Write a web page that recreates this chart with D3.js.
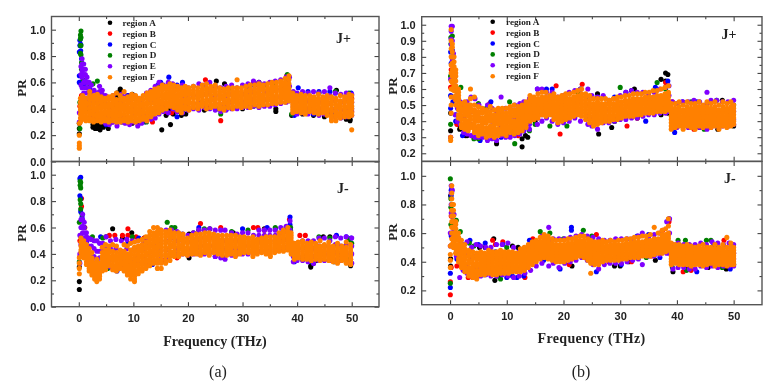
<!DOCTYPE html>
<html>
<head>
<meta charset="utf-8">
<script src="https://cdn.jsdelivr.net/npm/d3@7"></script>
<style>
  html, body { margin: 0; background: #fff; }
  svg { display: block; filter: blur(0.6px); font-family: "Liberation Serif", serif; }
  .tick text { font-weight: bold; fill: #222; }
</style>
</head>
<body>
<svg width="780" height="387"></svg>
<script>
const regions = ['region A', 'region B', 'region C', 'region D', 'region E', 'region F'];
const colors = ['#000000', '#ff0000', '#0000ff', '#008000', '#8000ff', '#ff8000'];

// each row: frequency (THz), then the PR values at that frequency x100
const aPlusA = [[0.1,21,25,29],[0.6,42],[2.1,35,33],[2.6,28,26],[3,29,27,25],[3.4,27,25,29],[3.9,24,27,29],[4.5,28,26],[5.4,25,29],[6.1,30],[7,50,52],[7.6,54,55],[8.5,47,31],[9.8,51,29],[11,30],[12.5,50],[14.7,38],[15.2,24],[16,35,40],[16.8,28,40],[17.3,36],[18,38],[18.8,35],[19.6,36],[23,39],[25.2,61,40],[26.7,59],[27,40],[28.3,41],[30,40],[33,60,42],[36.1,40,38],[39,35],[41,36],[43,35],[45,34],[47.2,54],[49,32],[49.7,31,32]];
const aPlusB = [[0.2,30,42],[0.5,50,42],[1,44],[2.3,37,33],[3,32],[6,33],[9,50],[13.5,30,50],[16,38],[17,37],[18,38],[23.2,62],[26,31],[24,42],[32,60],[32.5,58],[38.1,65,60],[40,51],[44,37],[48,35],[50,38,48]];
const aPlusC = [[0.1,65,60,83],[0.2,88,92],[0.35,89,84,60],[0.5,78],[1,58],[2,38,55],[3,35],[5,28,48],[7.2,32],[9,50],[11,32],[12,30],[13,52],[14.5,58],[15,60],[16.5,64],[18,34,58],[19,60],[22,42],[25,56],[27,40],[28,56],[31,57],[32,58],[36,44],[38.2,48,62],[39.5,35],[40.2,56],[41,38],[42,53],[43,36],[44,53],[46,53],[47,36,52],[49.9,50,52,38,42]];
const aPlusD = [[0.2,25,45],[0.3,82,88,93,96],[0.4,99,94,88,81],[0.5,75,70],[0.8,62],[2,38,58],[2.6,59],[3.4,61],[4,36],[6,48],[8,30],[10,48],[12.4,30],[14,55],[15,58],[19,38],[24,55],[25.5,40],[26,36],[28,55],[32,42],[34,58],[36,58],[38.2,66],[39,36],[42,38],[44,52],[46,36],[47,53],[49.5,52,38],[49.9,36,46]];
const aPlusE = [[0.1,37,30],[0.4,72,66,58],[0.6,78,74,69,64,56],[0.9,74,70,66,60,52],[1.2,70,66,61,56,48],[1.5,64,60,56,52,45],[1.9,60,56,52,48,42],[2.3,58,52,46,36],[2.8,54,48,40,34],[3.3,52,46,38,32],[3.8,57,53,50,42,34],[4.3,54,51,47,36,31],[4.9,50,44,33,29],[5.6,48,41,34,28],[6.3,50,43,36,30],[7,46,38,32,27],[7.8,51,44,35,30],[8.5,49,41,33,29],[9.3,47,39,31,28],[10,50,42,35,30],[10.8,48,37,31,27],[11.5,47,40,34,29],[12.4,52,44,36,31],[13.2,54,46,38,32],[14,57,48,40,33],[14.7,60,50,42,36],[15.5,58,49,43,38],[16.4,60,50,44,37],[17.2,59,52,45,40],[18,57,50,43,38],[19,58,50,44,37],[20,56,49,43,39],[21,57,50,44,40],[22,59,52,45,39],[23,58,51,44,41],[24,60,52,46,40],[25,57,50,44,39],[26,56,49,43,38],[27,57,50,44,39],[28,58,51,45,40],[29,56,50,44,40],[30,58,51,45,41],[31,59,52,46,41],[32,61,53,47,42],[33,60,52,46,41],[34,59,53,47,42],[35,60,53,47,42],[36,61,54,48,43],[37,62,55,49,44],[38,64,56,50,45],[38.6,64,57,50,46],[39.3,53,47,42,37],[40,52,46,40,36],[41,53,47,41,37],[42,52,46,40,36],[43,53,46,41,37],[44,52,45,40,35],[45,53,47,42,36],[46,56,50,44,38],[47,52,46,40,34],[48,51,45,39,33],[49,52,46,40,34],[50,51,45,40,35]];
const aPlusF = [[0.1,10,12,14,20,29],[0.3,30,33,36,39,42,45,48],[0.7,32,34,37,39,42,44,47,50],[1.3,31,34,37,40,43,45,48],[2,31,33,36,38,41,44,47,50,53],[2.7,30,32,35,38,40,43,46,48,50],[3.4,31,34,36,39,41,44,47,49,51],[4.1,30,33,35,37,40,42,45,47,49],[4.8,31,33,36,38,41,43,46,48],[5.5,30,32,35,37,39,42,44,47,49],[6.2,31,34,36,38,41,43,46,48,50],[6.9,30,33,35,38,40,43,45,47,52],[7.6,30,32,35,37,40,42,44,47,50],[8.3,31,33,36,39,41,43,46,48,53],[9,30,32,34,37,39,41,44,46,49],[9.7,31,34,37,39,42,44,47,49,51],[10.4,30,33,35,38,40,43,45,48,50],[11.1,31,33,36,38,41,43,46,48],[11.8,32,34,37,39,42,44,47,50],[12.5,31,34,37,40,43,45,48,50,52],[13.2,34,36,39,41,44,47,49,51,53],[13.9,36,38,41,44,46,49,51,53,55],[14.6,37,40,42,45,47,50,52,54,56],[15.3,39,41,44,46,49,51,54,56,58],[16,40,43,45,48,50,52,55,57],[16.7,42,44,46,49,51,53,56,59],[17.4,41,43,46,48,50,53,55,58],[18.1,39,41,44,46,49,51,54,57],[18.8,37,40,42,45,47,50,52,54,56],[19.5,40,42,45,47,50,52,54,57],[20.2,39,41,44,46,48,51,53,56],[21,41,43,45,48,50,52,54,57],[21.8,40,42,44,47,49,51,53,56],[22.6,42,44,46,49,51,53,55,58],[23.4,40,43,45,47,50,52,54,56,59],[24.2,41,43,46,48,50,53,55,57],[25,42,44,46,48,51,53,55,58],[25.8,40,42,44,47,49,51,53,56],[26.6,39,41,44,46,48,50,53,55],[27.4,41,43,45,47,50,52,54,56],[28.2,40,42,45,47,49,51,53,56],[29,42,44,46,48,50,52,54,56,62],[29.8,41,43,45,47,49,51,53,56],[30.6,42,44,46,48,50,52,54,57],[31.4,41,44,46,48,50,53,55,58],[32.2,43,45,47,49,51,53,55,58],[33,42,45,47,49,51,53,55,57,59],[33.8,43,45,47,49,51,54,56,58],[34.6,43,46,48,50,52,54,56,59],[35.4,44,46,48,50,52,54,56,58,60],[36.2,44,46,48,50,53,55,57,60],[37,45,47,49,51,53,55,57,59,61],[37.8,45,48,50,52,54,56,58,60,63],[38.5,46,48,50,52,54,56,59,62,65],[39.2,37,39,41,43,45,47,49,52],[39.9,38,40,42,44,46,48,50],[40.7,37,39,41,43,45,47,49,51],[41.5,36,38,40,42,44,46,48,50],[42.3,38,40,42,44,46,48,50],[43.1,37,39,41,43,45,47,49],[43.9,36,38,40,42,44,46,48,51],[44.7,37,39,41,43,45,47,49],[45.5,35,37,39,41,43,45,47,50],[46.3,31,33,35,38,40,43,45,47,49],[47.1,31,34,36,38,41,43,46,48],[47.9,33,35,37,40,42,44,46,50],[48.7,34,36,38,40,42,45,47,49],[49.5,34,36,38,41,43,45,47,49,51],[50,24,35,37,40,42,45,47,50]];

const aMinusA = [[0.1,13,19,30],[0.4,38],[3,30],[5,53,30],[6.2,59],[8,52],[9.7,56],[12,52],[13.5,33],[20.2,37,55],[22,58],[24,59],[28.3,56],[34,59],[38,60],[42.5,30,31],[43.8,35],[44.8,53],[46,53],[46.8,34],[48.2,38],[49.8,31]];
const aMinusB = [[0.2,38,50],[0.5,82,76],[1.1,60],[3.5,33],[5.6,54],[6.6,54,28],[7,28],[8,54],[9,59,54],[10.5,53],[12,52],[15.6,35],[18,37],[22.3,63],[26,60],[32,60],[32.8,60],[34,58],[38.6,66],[40.5,54],[41.5,54],[43,33],[49.8,36]];
const aMinusC = [[0.2,97,84],[0.35,98,82,72],[0.6,68],[1.5,50],[4,53],[5,30],[7,27],[9,48],[11,52],[13.5,32],[19,55],[22,60],[25,38],[26.6,37],[30,59],[34.5,60],[36,59],[38.7,68,62],[39.5,34],[43,33],[47.2,54],[49,53],[49.9,52,46]];
const aMinusD = [[0.1,34,64],[0.25,81,95,92],[0.35,94,90,78,74],[0.6,70],[1,60],[2.5,53],[3.5,33],[4.4,52],[5.3,29],[9.8,53],[13,33],[16.2,64],[17,60],[17.6,60],[21,56],[23,59],[28,57],[31,58],[36,60],[38.8,60,58],[41,36],[42.5,34],[44,53],[46,52],[49.5,51,36],[50,48]];
const aMinusE = [[0.2,33,40,54],[0.4,66,60,54,47],[0.7,70,66,61,56,50],[1,64,60,56,52,46],[1.4,56,53,50,44],[1.8,52,46,40,36],[2.3,51,46,40,35],[2.8,50,44,38,33],[3.3,50,42,36,32],[3.8,48,42,37,33],[4.4,48,43,37,31],[5,53,46,38,32],[5.8,50,44,36,30],[6.8,51,44,37,30],[7.8,50,42,36,30],[8.8,51,44,37,31],[9.8,50,43,36,32],[10.8,50,43,37,33],[11.8,50,44,38,33],[12.8,52,46,40,33],[13.8,54,47,40,34],[15,58,50,42,36],[16,58,50,43,37],[17,58,52,46,40],[18,57,50,44,40],[19,54,50,44,40],[20,54,49,43,39],[21,56,50,44,40],[22,58,51,45,40],[23,58,52,46,40],[24,59,52,46,41],[25,58,50,44,38],[26,58,50,44,37],[26.8,58,50,44,36],[28,56,50,44,39],[29,55,50,44,40],[30,56,50,44,40],[31,56,52,46,40],[32,54,50,45,41],[33,58,54,49,42],[34,58,54,49,42],[35,58,54,50,43],[36,58,54,50,43],[37,60,56,50,44],[38,61,57,51,45],[38.7,65,58,52,46],[39.3,48,43,38,34],[40,48,42,38,35],[41,50,44,38,35],[42,50,44,38,34],[43,50,44,38,33],[44,52,46,40,35],[45,52,46,40,35],[46,50,44,38,35],[47,53,47,41,35],[48,52,46,40,35],[49,53,47,40,34],[50,52,46,40,33]];
const aMinusF = [[0.1,25,29,33,37],[0.4,38,41,43,46,49,52],[0.9,37,39,41,44,46,48,50],[1.4,32,34,37,39,42,44,47],[1.9,27,29,31,34,36,38,41,44],[2.4,24,26,28,30,33,35,37,41],[2.9,21,23,25,27,29,31,33],[3.3,19,21,23,25,27,30,33,36],[3.8,21,23,24,26,28,30,33],[4.3,27,29,31,33,36,38,41,45],[4.9,28,30,33,35,38,40,43,47],[5.5,31,33,36,38,41,43,46],[6.2,28,30,32,35,37,39,42,47],[6.9,27,29,31,34,36,38,41,46],[7.6,29,31,33,36,38,40,43],[8.3,27,29,32,34,37,39,42,47],[8.9,24,26,28,31,34,37,40,46],[9.5,21,24,26,29,31,34,37,40,43,48],[10.2,19,21,23,26,28,31,33,36,39,42,45,49],[10.9,25,27,30,32,35,37,40,43,46,50],[11.6,27,29,32,34,37,39,42,44,47,51],[12.3,29,31,34,36,39,41,44,46,49,53],[13,31,33,36,38,41,43,46,48,51,54,57],[13.7,33,35,38,40,43,45,48,50,53,56,60],[14.4,29,33,36,39,41,44,46,49,51,54,57,60],[15.1,29,33,36,39,42,45,47,50,52,55,58],[15.9,33,35,38,40,43,45,48,50,53,55,57],[16.7,35,38,40,42,45,47,50,52,54,56,58],[17.5,38,40,42,45,47,49,52,54,56],[18.3,38,40,43,45,47,50,52,54,56],[19.1,40,42,44,46,48,50,52,55],[19.9,39,41,43,45,48,50,52],[20.7,40,42,44,46,48,50,52,54],[21.5,40,42,44,46,48,50,52,55],[22.3,39,41,43,45,47,49,51,53,55],[23.1,41,43,45,47,49,51,53,56],[23.9,39,41,43,45,47,50,52,54,56],[24.7,41,43,45,47,49,51,53,55],[25.5,40,42,44,46,48,50,52,54],[26.3,39,41,43,45,47,49,51,54],[27.1,39,41,43,45,47,49,51,54],[27.9,40,42,44,46,48,50,52,54],[28.7,38,40,42,45,47,49,51,54],[29.5,40,42,44,46,48,50,52,53],[30.3,41,43,45,47,49,51,53],[31.1,41,43,45,47,49,51,52],[31.9,38,40,42,44,46,48,50,53],[32.7,40,42,44,46,48,50,51],[33.5,41,43,45,47,49,51,52],[34.3,40,42,44,46,48,50,51,53],[35.1,38,40,42,44,46,48,50,53],[35.9,41,43,45,47,49,51,53],[36.7,42,44,46,48,50,52,53,56],[37.5,42,44,46,48,50,52,54,56,58],[38.3,43,45,47,49,51,53,55,57,60],[38.9,40,42,44,46,48,50,52,54,56],[39.5,36,38,40,42,44,46,48],[40.2,37,39,41,43,45,47,49],[41,36,38,40,42,44,46,48,50],[41.8,36,38,40,42,44,46,48],[42.6,35,37,39,41,43,45,47,49],[43.4,36,38,40,42,44,46,48],[44.2,35,37,39,41,43,45,46,50],[45,36,38,40,42,43,45,47],[45.8,35,37,38,40,42,44,46,49],[46.6,34,36,38,40,42,44,46],[47.4,33,35,37,39,41,43,45,48],[48.2,35,37,39,41,42,44,46],[49,33,35,37,39,41,43,45,49],[49.8,32,34,36,38,40,42,44,47]];

const bPlusA = [[0.1,34,45],[0.5,60],[1.5,38],[1.7,35],[2.7,31],[3,31],[8.2,26],[12.7,24,29],[13.3,31],[13.7,30],[15,40],[19.5,45],[24.5,42],[26,57],[26.2,32],[27,55],[28.5,36],[29,40],[32,59],[32.5,60],[33,42],[37.2,66,44],[38,70,65],[38.4,69,45],[44,36],[47.2,35],[48,53],[50,37]];
const bPlusB = [[0.1,30,61],[0.2,72],[0.7,60],[1.2,38],[5,30],[7,51],[10.5,31],[12,31],[12.5,50],[18.7,62],[19.4,32],[23.3,63],[22.5,55],[25.5,40],[31.2,37],[33,42],[38,64],[39.2,52],[43,35],[46,52],[49,38]];
const bPlusC = [[0.1,48,56,83],[0.2,68,76],[0.5,52],[1,44,40],[2.2,31],[3.5,48],[5.3,28],[7.2,52],[7.4,30],[9,30],[10.6,32],[13,34],[15.4,60],[17,60],[18,60],[20,52],[24,55],[25.7,44],[27,40],[29,55],[31,58],[34.5,40],[36.2,61],[38.4,65],[39.6,33],[41,52],[43.5,52],[45,36],[49,37]];
const bPlusD = [[0.1,38,68],[0.15,92,88],[0.4,93,84],[0.8,66],[1.9,61],[3,48],[4.2,29],[5,51,29],[6.4,48],[10.5,52],[11.4,26],[14,34],[15,38],[17.6,37],[20.6,37],[22.5,58],[23,60],[29,40],[30,61],[33,43],[36.5,64],[38,60],[42.5,52],[44.8,35],[45.5,37],[47,53],[50,50]];
const bPlusE = [[0.1,30,66],[0.2,99,96,91,88],[0.4,99,90,84,78],[0.6,82,72,60],[0.9,62,54,44],[1.3,58,48,40],[1.8,52,44,38],[2.4,50,42,36,33],[3,52,44,36,32],[3.7,55,46,38,31],[4.4,54,46,36,30],[5.1,50,42,34,30],[5.8,46,39,33,30],[6.6,50,41,33,28],[7.4,48,40,32,29],[8.2,46,40,33,28],[9,55,44,37,31],[9.8,48,40,33,30],[10.6,48,40,34,30],[11.4,50,42,34,31],[12.3,51,43,36,32],[13,52,44,37,34],[14,54,46,38,35],[15.4,60,50,42,38],[16.2,60,50,44,40],[17,58,50,44,42],[18,58,50,44,40],[19,55,49,42,38],[20,56,48,42,39],[21,58,50,44,40],[22,59,52,46,42],[23,60,52,44,40],[24.3,60,50,44,38],[25,56,48,42,37],[26,55,47,40,35],[27,56,48,42,39],[28,53,47,42,39],[29,54,48,42,40],[30,56,49,43,41],[31,58,50,44,41],[32,59,52,45,42],[33,58,52,46,42],[34,58,52,46,43],[35,57,52,47,44],[36,58,53,47,44],[37,60,54,48,45],[38,61,55,49,45],[38.6,62,56,50,46],[39.2,52,46,41,36],[40,51,45,40,36],[41,52,46,40,37],[42,52,46,40,36],[43,53,46,41,37],[44,52,46,40,36],[45.3,58,51,42,35],[46,53,46,40,36],[47,53,46,41,37],[48,52,46,41,37],[49,52,46,40,37],[50,53,46,41,38]];
const bPlusF = [[0.1,28,30],[0.2,45,50,55,60,65,70,75,80,85,90,97],[0.4,60,64,68,72,76,80,83,86,88],[0.7,55,59,62,66,69,72,74,77,80],[1,50,53,56,59,62,65,68,70,72],[1.5,42,44,47,49,52,54,56,58,60],[2,36,38,41,43,46,48,51],[2.6,35,37,39,41,44,46,48,50,52],[3.2,34,36,38,40,43,45,47,49,50],[3.6,36,38,41,43,46,48,50,54,60],[4.3,33,35,37,39,41,43,45,47,50,55],[5,31,33,35,37,40,42,44,46,49],[5.7,32,34,36,38,40,42,45,47,48],[6.4,30,32,34,36,39,41,43,45,47],[7.1,31,33,35,37,40,42,44,46,49],[7.8,30,32,34,36,38,40,42,44,47],[8.5,31,33,35,38,40,42,44,46,48],[9.2,32,34,36,38,40,42,44,46,48],[9.9,31,33,35,37,39,41,43,45,48],[10.6,33,35,37,39,41,43,45,47,49],[11.3,32,34,36,38,40,43,45,47,50],[12,33,35,37,39,41,43,45,47,49],[12.7,34,36,38,40,42,44,46,48,50],[13.4,36,38,40,42,44,46,48,50,52],[14.1,40,42,44,46,48,50,52,54,56],[14.8,41,43,45,47,49,51,53,55],[15.5,42,44,46,48,50,52,54,57],[16.2,44,46,48,50,52,54,55,58],[16.9,43,45,47,49,51,53,55,58],[17.6,44,46,48,50,52,54,56],[18.3,41,43,45,47,49,51,53,55,57],[19,39,41,43,45,47,49,51,53,55],[19.7,40,42,44,46,48,50,52,54,56],[20.4,41,43,45,47,49,51,53,55,57],[21.1,42,44,46,48,50,52,54,57],[21.8,43,45,47,49,51,53,55,58],[22.5,44,46,48,50,52,54,56,59],[23.2,43,45,47,49,51,53,55,57,60],[23.9,41,43,45,47,49,51,53,55,57],[24.6,39,41,43,45,47,49,51,53,56],[25.3,37,39,41,43,45,47,49,51,54],[26,38,40,42,44,46,48,50,52,54],[26.7,39,41,43,45,47,49,51,54],[27.4,40,42,44,46,48,50,51,54],[28.1,40,42,44,46,48,50,52,53],[28.8,41,43,44,46,48,50,51,54],[29.5,41,43,44,46,47,49,51,53,55],[30.2,42,44,45,47,48,50,52,55],[30.9,43,45,46,48,50,52,53,56],[31.6,43,45,46,48,49,51,53,56],[32.3,43,45,47,49,50,52,54,57],[33,44,46,47,49,50,52,54,57],[33.7,44,46,48,50,51,53,54,57],[34.4,45,47,48,50,51,53,55,58],[35.1,45,47,48,50,52,54,55,58],[35.8,45,47,49,51,52,54,55,59],[36.5,46,48,49,51,52,54,56,59],[37.2,46,48,50,52,53,55,56,60],[37.9,46,48,50,52,54,56,57,61],[38.5,47,49,51,53,55,57,58,62],[39,35,37,39,41,43,45,47,49,51],[39.7,36,38,40,42,44,46,48,51],[40.4,37,39,41,43,45,47,49,52],[41.1,35,37,39,41,43,45,47,50],[41.8,37,39,41,43,45,47,49,52],[42.5,36,38,40,42,44,46,48,51],[43.2,35,37,39,41,43,45,47,49,51],[43.9,37,39,41,43,45,47,49,52],[44.6,36,38,40,42,44,46,48,50],[45.3,37,39,41,43,45,47,49,52],[46,36,38,40,42,44,46,48,51],[46.7,37,39,41,43,45,47,49,52],[47.4,35,37,39,41,43,45,47,50],[48.1,37,39,41,43,45,47,49,52],[48.8,36,38,40,42,44,46,48,51],[49.5,37,39,41,43,45,47,49,52],[50,38,40,42,44,46,48,50]];

const bMinusA = [[0.1,37,42,86],[0.4,72],[1.1,46],[2,37],[5.2,50],[6.2,50],[7.7,56],[7.9,27],[8.5,30],[11,51],[12,50],[21.5,37],[29,37],[30,37],[31.5,40],[36.2,41],[37.3,47],[39.3,33],[42,36],[45.5,36],[47,38],[48.7,35],[50,38]];
const bMinusB = [[0.05,17,26],[0.2,36,72],[0.9,66],[1.2,37],[3.2,29],[4,29],[7.5,55],[8,52],[9.3,54],[13.2,29],[14.6,56],[21,38],[25.8,59],[28,40],[32,40],[35.5,44],[37.5,62],[38.6,68],[41.1,33],[42.5,34],[48.3,55],[49.4,37]];
const bMinusC = [[0.05,22,32],[0.2,58,90,86],[0.6,64],[1.2,42],[2,38],[3.5,55],[4,31],[5,52],[6.2,53],[8,47],[9.3,52],[10,29],[11,30],[11.8,29],[13,30],[14,55],[16.5,41],[19.4,35],[21.4,64,62],[25.8,33],[30.2,38],[33,58],[35,59],[37,43],[38.6,70],[39.5,49],[43.5,33],[46.5,52],[49.4,35]];
const bMinusD = [[0.05,25,98],[0.15,66,84,78],[0.5,74,68],[1.1,69],[1.8,61],[3.4,53],[4.2,51],[6,31],[8.9,28],[10,50],[14,40],[15.9,61],[17.6,60],[20,56],[23.5,62],[25,58],[28.5,42],[30,42],[34.6,43],[36.7,55],[39.2,36],[40.2,55],[41.5,55],[41.7,34],[45.2,55],[46,55],[47,50],[48,36]];
const bMinusE = [[0.05,51,60],[0.2,93,88,80,74],[0.4,90,80,72],[0.7,73,62,56],[1.1,60,50,44],[1.7,29,52,44],[2.3,52,46,38,34],[3,54,46,38,32],[3.8,50,43,35,31],[4.6,52,44,36,30],[5.4,51,42,35,30],[6.3,50,42,34,31],[7.2,50,42,35,30],[8.2,52,43,36,30],[9.2,52,44,36,31],[10.2,53,44,36,30],[11.2,50,42,36,29],[12.2,47,42,36,30],[13.2,48,42,36,32],[14.2,52,46,40,34],[15.2,54,48,42,37],[16.2,58,50,43,39],[17.4,64,54,46,37],[18.2,56,50,44,39],[19.2,56,48,42,36],[20.2,56,48,42,39],[21.2,57,50,44,40],[22.2,58,50,44,41],[23.2,59,52,46,43],[24.2,58,50,44,41],[25.2,57,49,42,38],[26.2,56,48,41,35],[27.2,55,48,42,38],[28.2,55,48,42,39],[29.2,56,49,43,39],[30.2,56,50,44,39],[31.2,56,50,45,40],[32.2,56,50,45,41],[33.2,58,51,46,42],[33.9,60,52,45,38],[35,57,52,46,44],[36,59,53,48,44],[37,60,54,49,45],[38.2,68,56,50,46],[38.7,70,60,52,46],[39.3,52,46,41,35],[40.2,53,47,41,36],[41.2,52,46,41,36],[42.2,52,46,40,35],[43.2,52,46,41,35],[44.2,53,46,41,37],[45.2,52,46,41,36],[46.2,54,47,42,37],[47.2,53,46,40,36],[48.2,52,46,41,37],[49.2,53,47,41,37],[50,52,46,42,37]];
const bMinusF = [[0.05,36,41,45,51],[0.3,52,56,60,64,68,72,76,80,84,88,93],[0.6,50,54,57,60,64,68,72,76,80],[1,46,49,52,55,58,60,63,66,68],[1.5,40,42,45,47,50,52,55,57,60],[2,36,38,40,42,45,47,50,52,55],[2.6,33,35,37,39,42,44,47,49,52],[3.3,30,32,34,36,39,41,44,46,48],[4,29,31,33,35,37,39,42,44,47],[4.7,28,30,32,34,37,39,42,44,46],[5.4,31,33,35,37,39,41,43,45,47],[6.1,31,33,35,37,39,41,43,45,46],[6.8,32,34,36,38,40,42,44,46,48],[7.5,31,33,35,37,39,41,43,45,47],[8.2,31,33,35,37,39,41,43,45,47],[8.9,32,34,36,38,40,42,44,46,48],[9.6,32,34,36,38,40,42,44,46,47],[10.3,32,34,36,38,40,42,44,46,47],[11,33,35,37,39,41,43,45,47],[11.7,33,35,37,39,41,43,44,46],[12.4,33,35,37,39,41,43,45,47,49],[13.1,34,36,38,40,42,44,46,48,50],[13.8,36,38,40,42,44,46,48,50,52],[14.5,38,40,42,44,46,48,50,52,54],[15.2,40,42,44,46,48,50,52,54,55],[15.9,42,44,46,48,50,52,54,57],[16.6,43,45,47,49,51,53,55,57,59],[17.3,42,44,46,48,50,52,54,56,58],[18,41,43,45,47,49,51,53,56],[18.7,40,42,44,46,48,50,52,55],[19.4,40,42,44,46,48,50,52,55],[20.1,40,42,44,46,48,50,52,55],[20.8,41,43,45,47,49,51,53,56],[21.5,42,44,46,48,50,52,53,56],[22.2,43,45,47,49,51,53,55,57],[22.9,44,46,48,50,52,54,55,58],[23.6,43,45,47,49,51,53,55,58],[24.3,41,43,45,47,49,51,53,56],[24.8,32,39,41,43,45,47,49,51,53,55],[25.5,38,40,42,44,46,48,50,52,54],[26.2,38,40,42,44,46,48,50,52,54],[26.9,40,42,44,46,47,49,51,53,55],[27.6,41,43,44,46,48,50,51,54],[28.3,41,43,45,47,48,50,52,55],[29,41,43,45,47,48,50,52,54],[29.7,41,43,45,47,49,51,52,55],[30.4,42,44,46,48,49,51,52,55],[31.1,42,44,46,48,49,51,53,56],[31.8,43,45,46,48,50,52,53,56],[32.5,43,45,47,49,50,52,54,57],[33.2,43,45,47,49,51,53,54,57],[33.9,44,46,47,49,51,53,54,58],[34.6,44,46,48,50,51,53,55,58],[35.3,44,46,48,50,52,54,55,59],[36,45,47,48,50,52,54,56,64],[36.7,46,48,49,51,52,54,56,60],[37.4,46,48,50,52,53,55,57,59,62],[38,47,49,51,53,55,57,59,63],[38.5,48,50,52,54,56,58,60,65,70],[39,38,40,42,44,46,48,50,53],[39.7,39,41,43,45,47,49,50,52],[40.4,38,40,42,44,46,48,50,52],[41.1,38,40,42,44,46,48,49,51],[41.8,38,40,42,44,46,48,50,52],[42.5,37,39,41,43,45,47,49,51],[43.2,38,40,42,44,46,48,50],[43.9,38,40,42,44,46,48,49,51],[44.6,37,39,41,43,45,47,49,52],[45.3,38,40,42,44,46,48,50],[46,39,41,43,45,47,48,50],[46.7,37,39,41,43,45,47,49,52],[47.4,38,40,42,44,46,48,50],[48.1,38,40,42,44,46,48,49,52],[48.8,37,39,41,43,45,47,50,57],[49.5,38,40,42,44,46,48,50,53],[50,38,40,42,44,46,48,50]];

const majorX = [0, 10, 20, 30, 40, 50];
const minorX = [5, 15, 25, 35, 45];
const ticksStep2 = [0, 0.2, 0.4, 0.6, 0.8, 1.0];
const minorStep2 = [0.1, 0.3, 0.5, 0.7, 0.9];
const ticksB = [0.2, 0.3, 0.4, 0.5, 0.6, 0.7, 0.8, 0.9, 1.0];
const minorB = [0.25, 0.35, 0.45, 0.55, 0.65, 0.75, 0.85, 0.95];
const ticksBm = [0.2, 0.4, 0.6, 0.8, 1.0];
const minorBm = [0.3, 0.5, 0.7, 0.9];

const svg = d3.select('svg');

const panels = [
  { left: 51.5, right: 379, top: 16.5, bottom: 161.5, yDomain: [0, 1.1], yTicks: ticksStep2, yMinor: minorStep2, label: 'J+', labelX: 336, labelY: 43, prX: 26, prY: 88, series: [aPlusA, aPlusB, aPlusC, aPlusD, aPlusE, aPlusF], legend: { x: 110, text: 122.5, y: 22.7 } },
  { left: 51.5, right: 379, top: 161.5, bottom: 306.7, yDomain: [0, 1.1], yTicks: ticksStep2, yMinor: minorStep2, label: 'J-', labelX: 337, labelY: 193, prX: 26, prY: 233, xLabels: true, series: [aMinusA, aMinusB, aMinusC, aMinusD, aMinusE, aMinusF] },
  { left: 421.7, right: 762, top: 16.7, bottom: 161.3, yDomain: [0.15, 1.05], yTicks: ticksB, yMinor: minorB, label: 'J+', labelX: 721.5, labelY: 39, prX: 397, prY: 86, series: [bPlusA, bPlusB, bPlusC, bPlusD, bPlusE, bPlusF], legend: { x: 492.7, text: 506, y: 21.7 } },
  { left: 421.7, right: 762, top: 161.5, bottom: 304.7, yDomain: [0.1, 1.1], yTicks: ticksBm, yMinor: minorBm, label: 'J-', labelX: 724, labelY: 183, prX: 397, prY: 232, xLabels: true, series: [bMinusA, bMinusB, bMinusC, bMinusD, bMinusE, bMinusF] }
];

const render = p => {
  const xScale = d3.scaleLinear().domain([-5, 55]).range([p.left, p.right]);
  const yScale = d3.scaleLinear().domain(p.yDomain).range([p.bottom, p.top]);
  const g = svg.append('g');

  p.series.forEach((rows, i) => {
    const points = rows.flatMap(row => row.slice(1).map(v => ({ f: row[0], pr: v / 100 })));
    g.append('g').selectAll('circle').data(points)
      .enter().append('circle')
        .attr('cx', d => xScale(d.f))
        .attr('cy', d => yScale(d.pr))
        .attr('r', 2.55)
        .attr('fill', colors[i]);
  });

  const place = (axis, x, y) => g.append('g')
    .attr('transform', `translate(${x},${y})`)
    .call(axis)
    .call(a => a.select('.domain').remove())
    .call(a => a.selectAll('line').attr('stroke', '#444').attr('stroke-width', 1.1));

  const bottomAxis = d3.axisBottom(xScale).tickValues(majorX).tickSize(-4.5).tickPadding(8);
  if (!p.xLabels) bottomAxis.tickFormat('');
  place(bottomAxis, 0, p.bottom).selectAll('text').attr('font-size', 11);
  place(d3.axisBottom(xScale).tickValues(minorX).tickSize(-2.5).tickFormat(''), 0, p.bottom);
  place(d3.axisTop(xScale).tickValues(majorX).tickSize(-4.5).tickFormat(''), 0, p.top);
  place(d3.axisTop(xScale).tickValues(minorX).tickSize(-2.5).tickFormat(''), 0, p.top);

  place(d3.axisLeft(yScale).tickValues(p.yTicks).tickSize(-4.5).tickPadding(6).tickFormat(d3.format('.1f')), p.left, 0)
    .selectAll('text').attr('font-size', 11);
  place(d3.axisLeft(yScale).tickValues(p.yMinor).tickSize(-2.5).tickFormat(''), p.left, 0);
  place(d3.axisRight(yScale).tickValues(p.yTicks).tickSize(-4.5).tickFormat(''), p.right, 0);
  place(d3.axisRight(yScale).tickValues(p.yMinor).tickSize(-2.5).tickFormat(''), p.right, 0);

  g.append('rect')
    .attr('x', p.left).attr('y', p.top)
    .attr('width', p.right - p.left).attr('height', p.bottom - p.top)
    .attr('fill', 'none').attr('stroke', '#555').attr('stroke-width', 1.4);

  g.append('text').text(p.label)
    .attr('x', p.labelX).attr('y', p.labelY)
    .attr('font-size', 14).attr('font-weight', 'bold').attr('fill', '#222');

  g.append('text').text('PR')
    .attr('transform', `translate(${p.prX},${p.prY}) rotate(-90)`)
    .attr('text-anchor', 'middle')
    .attr('font-size', 13).attr('font-weight', 'bold').attr('fill', '#222');

  if (p.legend) {
    const rowStep = 10.9;
    const items = g.append('g').selectAll('g').data(regions).enter().append('g')
      .attr('transform', (d, i) => `translate(0,${p.legend.y + i * rowStep})`);
    items.append('circle').attr('cx', p.legend.x).attr('r', 2.3).attr('fill', (d, i) => colors[i]);
    items.append('text').text(d => d)
      .attr('x', p.legend.text).attr('y', 3)
      .attr('font-size', 9.2).attr('font-weight', 'bold').attr('fill', '#222');
  }
};

panels.forEach(render);

const caption = (text, x, y, size, weight, spacing) => svg.append('text').text(text)
  .attr('x', x).attr('y', y)
  .attr('text-anchor', 'middle')
  .attr('font-size', size).attr('font-weight', weight).attr('letter-spacing', spacing).attr('fill', '#222');

caption('Frequency (THz)', 215, 346, 14, 'bold', 0.05);
caption('Frequency (THz)', 591.5, 343, 14, 'bold', 0.35);
caption('(a)', 218, 377, 16, 'normal', 0);
caption('(b)', 581, 377, 16, 'normal', 0);
</script>
</body>
</html>
